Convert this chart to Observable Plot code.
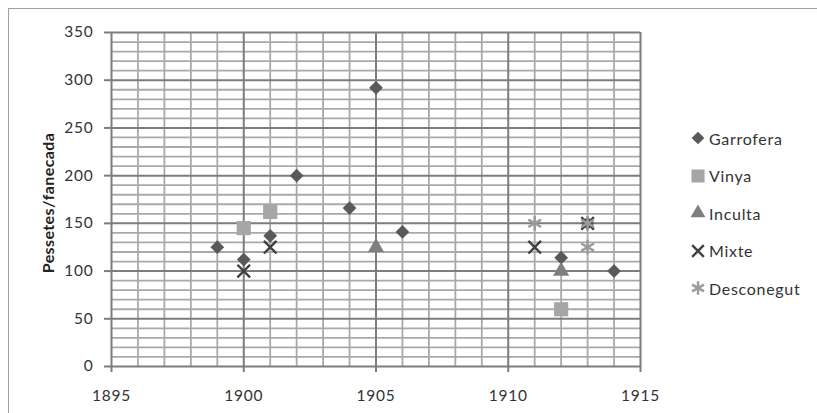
<!DOCTYPE html>
<html>
<head>
<meta charset="utf-8">
<script src="https://cdn.jsdelivr.net/npm/d3@7"></script>
<script src="https://cdn.jsdelivr.net/npm/@observablehq/plot@0.6"></script>
<style>
  html, body { margin: 0; padding: 0; background: #fff; }
  #wrap { position: relative; width: 817px; height: 413px; overflow: hidden; font-family: Lato, "Open Sans", sans-serif; }
  #border { position: absolute; left: 8px; top: 8px; width: 900px; height: 500px; border-left: 1.5px solid #a0a0a0; border-top: 1.5px solid #a0a0a0; }
  #chart { position: absolute; left: 0; top: 0; }
  #ytitle { position: absolute; left: 47px; top: 203px; transform: translate(-50%, -50%) rotate(-90deg); font-weight: bold; font-size: 16px; color: #222; white-space: nowrap; letter-spacing: 0.4px; }
  #legend { position: absolute; left: 689px; top: 127px; font-size: 16px; color: #333; letter-spacing: 0.7px; }
  .item { display: flex; align-items: center; height: 22px; margin-bottom: 15.5px; }
  .item svg { margin-right: 2px; }
</style>
</head>
<body>
<div id="wrap">
  <div id="border"></div>
  <div id="chart"></div>
  <div id="ytitle">Pessetes/fanecada</div>
  <div id="legend"></div>
</div>
<script>
// ---- data ----
const seriesNames = ["Garrofera", "Vinya", "Inculta", "Mixte", "Desconegut"];
const garroferaYear = [1899, 1900, 1901, 1902, 1904, 1905, 1906, 1912, 1913, 1914];
const garroferaValue = [125, 112, 137, 200, 166, 292, 141, 114, 150, 100];
const vinyaYear = [1900, 1901, 1912];
const vinyaValue = [145, 162, 60];
const incultaYear = [1905, 1912];
const incultaValue = [125, 100];
const mixteYear = [1900, 1901, 1911, 1913];
const mixteValue = [100, 125, 125, 150];
const desconegutYear = [1911, 1913, 1913];
const desconegutValue = [150, 125, 150];
const xTicks = [1895, 1900, 1905, 1910, 1915];
const yTicks = [0, 50, 100, 150, 200, 250, 300, 350];

const styles = {
  Garrofera: {symbol: "diamond2", color: "#595959", r: 6.2, filled: true},
  Vinya: {symbol: "square", color: "#a6a6a6", r: 8, filled: true},
  Inculta: {symbol: "triangle", color: "#7f7f7f", r: 6, filled: true},
  Mixte: {symbol: "times", color: "#404040", r: 5.8, filled: false},
  Desconegut: {symbol: "asterisk", color: "#9a9a9a", r: 7, filled: false}
};

const toRows = (name, xs, ys) => xs.map((x, i) => ({series: name, year: x, value: ys[i]}));
const rows = {
  Garrofera: toRows("Garrofera", garroferaYear, garroferaValue),
  Vinya: toRows("Vinya", vinyaYear, vinyaValue),
  Inculta: toRows("Inculta", incultaYear, incultaValue),
  Mixte: toRows("Mixte", mixteYear, mixteValue),
  Desconegut: toRows("Desconegut", desconegutYear, desconegutValue)
};

const minorX = d3.range(1895, 1916).filter(d => d % 5 !== 0);
const majorX = d3.range(1895, 1916).filter(d => d % 5 === 0);
const minorY = d3.range(0, 351, 10).filter(d => d % 50 !== 0);
const majorY = d3.range(0, 351, 50);

const dotMarks = seriesNames.map(name => {
  const s = styles[name];
  return Plot.dot(rows[name], {
    x: "year", y: "value", symbol: () => s.symbol, r: s.r,
    fill: s.filled ? s.color : "none",
    stroke: s.filled ? "none" : s.color,
    strokeWidth: s.filled ? 0 : 2.4
  });
});

const plot = Plot.plot({
  width: 817,
  height: 413,
  marginLeft: 111,
  marginRight: 177,
  marginTop: 32,
  marginBottom: 47,
  style: {fontFamily: "Lato, 'Open Sans', sans-serif", fontSize: "15px", color: "#333", background: "transparent", overflow: "visible"},
  x: {domain: [1895, 1915], ticks: xTicks, tickFormat: d => String(d), tickSize: 6, tickPadding: 17, label: null},
  y: {domain: [0, 350], ticks: yTicks, tickSize: 7, tickPadding: 11, label: null},
  symbol: {type: "identity"},
  marks: [
    Plot.ruleX(minorX, {stroke: "#a9a9a9", strokeWidth: 1.8}),
    Plot.ruleY(minorY, {stroke: "#a9a9a9", strokeWidth: 1.8}),
    Plot.ruleX(majorX, {stroke: "#7d7d7d", strokeWidth: 2}),
    Plot.ruleY(majorY, {stroke: "#7d7d7d", strokeWidth: 2}),
    Plot.axisX({ticks: xTicks, tickFormat: d => String(d), tickSize: 6, tickPadding: 17, stroke: "#7d7d7d", strokeWidth: 2, fill: "#333", fontSize: 15.5, label: null}),
    Plot.axisY({ticks: yTicks, tickSize: 7, tickPadding: 11, stroke: "#7d7d7d", strokeWidth: 2, fill: "#333", fontSize: 15.5, label: null}),
    ...dotMarks
  ]
});
d3.select(plot).selectAll("text").attr("letter-spacing", "0.8px");
document.getElementById("chart").appendChild(plot);

// ---- legend ----
const symMap = {diamond2: d3.symbolDiamond2, square: d3.symbolSquare, triangle: d3.symbolTriangle, times: d3.symbolTimes, asterisk: d3.symbolAsterisk};
const legend = d3.select("#legend");
seriesNames.forEach(name => {
  const s = styles[name];
  const item = legend.append("div").attr("class", "item");
  const svg = item.append("svg").attr("width", 18).attr("height", 18).attr("viewBox", "-9 -9 18 18");
  svg.append("path")
    .attr("d", d3.symbol(symMap[s.symbol], Math.PI * s.r * s.r * 0.85)())
    .attr("fill", s.filled ? s.color : "none")
    .attr("stroke", s.filled ? "none" : s.color)
    .attr("stroke-width", s.filled ? 0 : 2.4);
  item.append("span").text(name);
});
</script>
</body>
</html>
